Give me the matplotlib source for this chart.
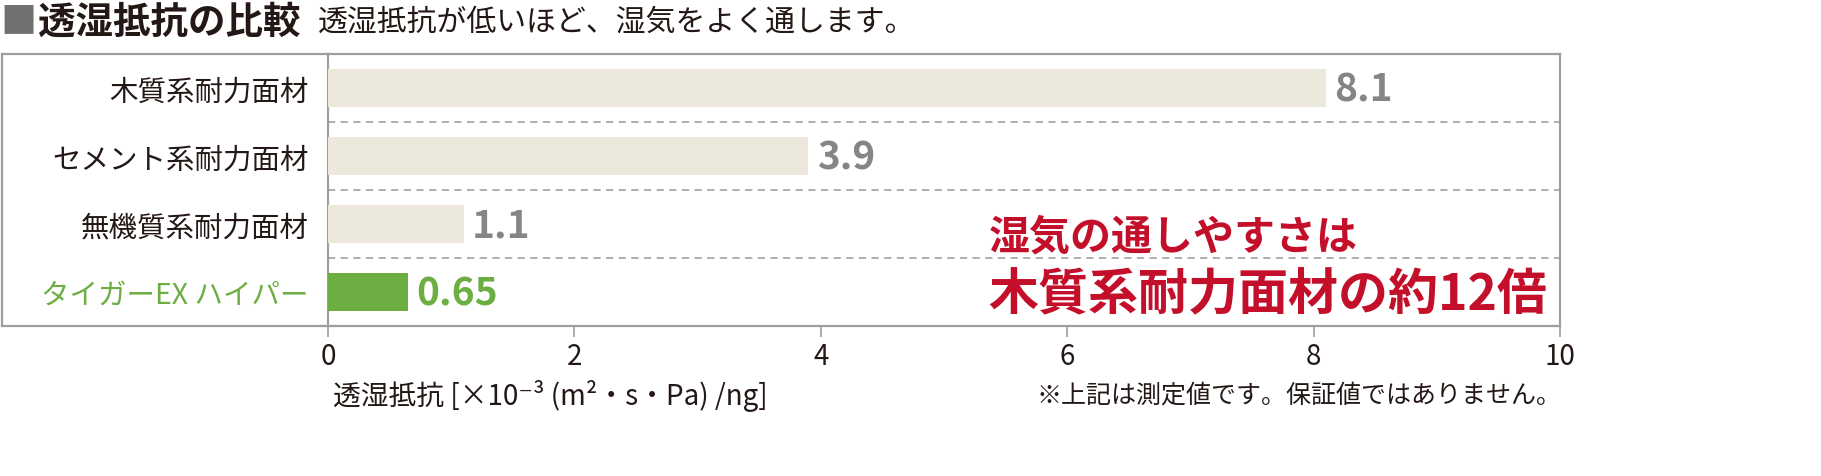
import matplotlib
matplotlib.use("Agg")
import matplotlib.pyplot as plt
from matplotlib.lines import Line2D

plt.rcParams['font.family'] = ['Noto Sans CJK JP', 'DejaVu Sans']

categories = ['木質系耐力面材', 'セメント系耐力面材', '無機質系耐力面材', 'タイガーEX ハイパー']
values = [8.1, 3.9, 1.1, 0.65]
value_labels = ['8.1', '3.9', '1.1', '0.65']
xticks = [0, 2, 4, 6, 8, 10]

BEIGE = '#ECE8DC'
GREEN = '#6DAE42'
GREY_TXT = '#858585'
RED = '#C40F2A'
DARK = '#231815'
FRAME = '#9E9E9E'

W, H = 1821, 477
fig = plt.figure(figsize=(W / 100, H / 100), dpi=100)

# plot area in pixel coords of the reference
left, right, top, bottom = 328, 1560, 55, 327
ax = fig.add_axes([left / W, 1 - bottom / H, (right - left) / W, (bottom - top) / H])

colors = [BEIGE, BEIGE, BEIGE, GREEN]
ypos = list(range(len(categories)))
ax.barh(ypos, values, height=0.55, color=colors, zorder=3)
ax.set_ylim(len(categories) - 0.5, -0.5)
ax.set_xlim(0, 10)

for i, (v, lab) in enumerate(zip(values, value_labels)):
    c = GREEN if i == len(values) - 1 else GREY_TXT
    ax.annotate(lab, (v, i), xytext=(6, -1), textcoords='offset points',
                ha='left', va='center', fontsize=28, fontweight='bold', color=c)

# dashed row separators
for k in range(1, len(categories)):
    ax.axhline(k - 0.5, color='#A8A8A8', lw=1.3, dashes=(4, 3), zorder=1)

ax.set_yticks(ypos)
ax.set_yticklabels(categories, fontsize=20.5, color=DARK)
ax.get_yticklabels()[-1].set_color(GREEN)
ax.tick_params(axis='y', length=0, pad=14)

ax.set_xticks(xticks)
ax.set_xticklabels([str(t) for t in xticks], fontsize=20, color=DARK)
ax.tick_params(axis='x', length=8, width=1.2, color=FRAME, pad=3)

for s in ax.spines.values():
    s.set_color(FRAME)
    s.set_linewidth(1.6)

# outer frame extending over the label column
y_top = 1 - top / H
y_bot = 1 - bottom / H
x0 = 1.5 / W
for xs, ys in [([x0, left / W], [y_top, y_top]),
               ([x0, left / W], [y_bot, y_bot]),
               ([x0, x0], [y_bot, y_top])]:
    fig.add_artist(Line2D(xs, ys, color=FRAME, lw=1.6))

# red callout
ax.text(0.536, 0.33, '湿気の通しやすさは', transform=ax.transAxes,
        fontsize=29.5, fontweight='bold', color=RED, ha='left', va='center')
ax.text(0.536, 0.115, '木質系耐力面材の約12倍', transform=ax.transAxes,
        fontsize=36, fontweight='bold', color=RED, ha='left', va='center')

# title line
fig.text(0 / W, 1 - 22 / H, '■', fontsize=26, color='#707070', ha='left', va='center')
fig.text(38 / W, 1 - 22 / H, '透湿抵抗の比較', fontsize=27, fontweight='bold',
         color=DARK, ha='left', va='center')
fig.text(318 / W, 1 - 22 / H, '透湿抵抗が低いほど、湿気をよく通します。', fontsize=21.5,
         color=DARK, ha='left', va='center')

# axis label and footnote
fig.text(333 / W, 1 - 396 / H, '透湿抵抗 [×10⁻³ (m²・s・Pa) /ng]', fontsize=20,
         color=DARK, ha='left', va='center')
fig.text(1562 / W, 1 - 396 / H, '※上記は測定値です。保証値ではありません。', fontsize=18,
         color=DARK, ha='right', va='center')

fig.savefig('out.png', dpi=100)
